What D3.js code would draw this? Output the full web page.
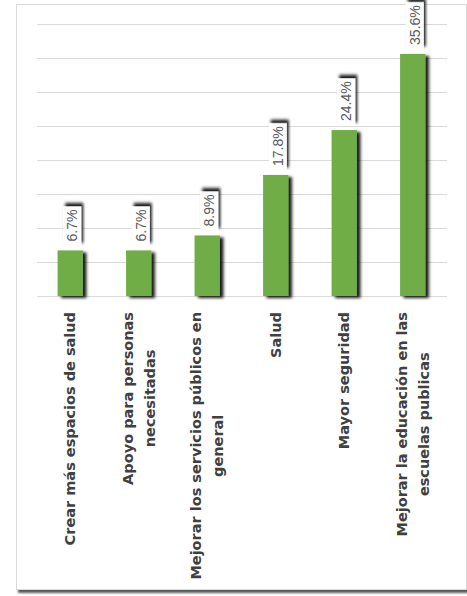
<!DOCTYPE html>
<html>
<head>
<meta charset="utf-8">
<script src="https://cdn.jsdelivr.net/npm/d3@7"></script>
<style>
  body { margin: 0; background: #fff; }
  svg { display: block; }
</style>
</head>
<body>
<svg id="chart"></svg>
<script>
let width = 467;
let height = 596;

// categories (already wrapped the way the original shows them)
let categories = [
  ['Crear más espacios de salud'],
  ['Apoyo para personas', 'necesitadas'],
  ['Mejorar los servicios públicos en', 'general'],
  ['Salud'],
  ['Mayor seguridad'],
  ['Mejorar la educación en las', 'escuelas publicas']
];
let values = [6.7, 6.7, 8.9, 17.8, 24.4, 35.6];
let gridTicks = [0, 5, 10, 15, 20, 25, 30, 35, 40];

let data = categories.map((c, i) => ({ key: i, lines: c, value: values[i] }));

let svg = d3.select('#chart')
    .attr('width', width)
    .attr('height', height);

let defs = svg.append('defs');
defs.append('filter')
    .attr('id', 'shadow')
    .attr('x', '-50%').attr('y', '-20%')
    .attr('width', '200%').attr('height', '140%')
  .append('feDropShadow')
    .attr('dx', 3.5).attr('dy', 2)
    .attr('stdDeviation', 1.6)
    .attr('flood-color', '#000')
    .attr('flood-opacity', 0.9);

defs.append('filter')
    .attr('id', 'frameShadow')
    .attr('x', '-5%').attr('y', '-5%')
    .attr('width', '110%').attr('height', '110%')
  .append('feDropShadow')
    .attr('dx', 2).attr('dy', 3)
    .attr('stdDeviation', 1.2)
    .attr('flood-color', '#000')
    .attr('flood-opacity', 0.65);

// chart frame
svg.append('rect')
    .attr('x', 16.5).attr('y', 4.5)
    .attr('width', 450).attr('height', 585)
    .attr('fill', '#fff')
    .attr('stroke', '#d9d9d9')
    .attr('stroke-width', 1)
    .attr('filter', 'url(#frameShadow)');

let xScale = d3.scaleBand()
               .domain(data.map(d => d.key))
               .range([36, 447])
               .paddingInner(0.63)
               .paddingOuter(0.315);

let yScale = d3.scaleLinear()
               .domain([0, 40])
               .range([296, 24]);

// gridlines
svg.append('g')
  .selectAll('line')
  .data(gridTicks)
  .enter()
  .append('line')
    .attr('x1', 37)
    .attr('x2', 447)
    .attr('y1', d => Math.round(yScale(d)) + 0.5)
    .attr('y2', d => Math.round(yScale(d)) + 0.5)
    .attr('stroke', '#d9d9d9')
    .attr('stroke-width', 1);

// bars
svg.append('g')
  .selectAll('rect')
  .data(data)
  .enter()
  .append('rect')
    .attr('x', d => xScale(d.key))
    .attr('y', d => yScale(d.value))
    .attr('width', xScale.bandwidth())
    .attr('height', d => yScale(0) - yScale(d.value))
    .attr('fill', '#70ad47')
    .attr('filter', 'url(#shadow)');

// data labels: white callout boxes with rotated text
let labels = svg.append('g')
  .selectAll('g')
  .data(data)
  .enter()
  .append('g')
    .attr('transform', d => `translate(${xScale(d.key) + xScale.bandwidth() / 2 + 2},${yScale(d.value) - 4}) rotate(-90)`);

labels.append('text')
    .attr('x', 5)
    .attr('y', 0)
    .attr('dy', '0.36em')
    .attr('font-family', 'Liberation Sans, Arial, sans-serif')
    .attr('font-size', 14)
    .attr('fill', '#595959')
    .text(d => d.value.toFixed(1) + '%');

labels.each(function() {
  let g = d3.select(this);
  let w = g.select('text').node().getComputedTextLength();
  g.insert('rect', 'text')
    .attr('x', 0)
    .attr('y', -9)
    .attr('width', w + 8)
    .attr('height', 18)
    .attr('fill', '#fff')
    .attr('filter', 'url(#shadow)');
});

// category labels, rotated, top-anchored under the axis
let cats = svg.append('g')
  .selectAll('g')
  .data(data)
  .enter()
  .append('g')
    .attr('transform', d => `translate(${xScale(d.key) + xScale.bandwidth() / 2},312) rotate(-90)`);

cats.each(function(d) {
  let g = d3.select(this);
  let lineH = 22;
  let texts = g.selectAll('text')
    .data(d.lines)
    .enter()
    .append('text')
      .attr('y', (l, i) => (i - (d.lines.length - 1) / 2) * lineH)
      .attr('dy', '0.35em')
      .attr('text-anchor', 'middle')
      .attr('font-family', 'DejaVu Sans, sans-serif')
      .attr('font-weight', 'bold')
      .attr('font-size', 14.5)
      .attr('fill', '#404040')
      .text(l => l);
  let maxW = d3.max(texts.nodes(), n => n.getComputedTextLength());
  texts.attr('x', -maxW / 2);
});
</script>
</body>
</html>
